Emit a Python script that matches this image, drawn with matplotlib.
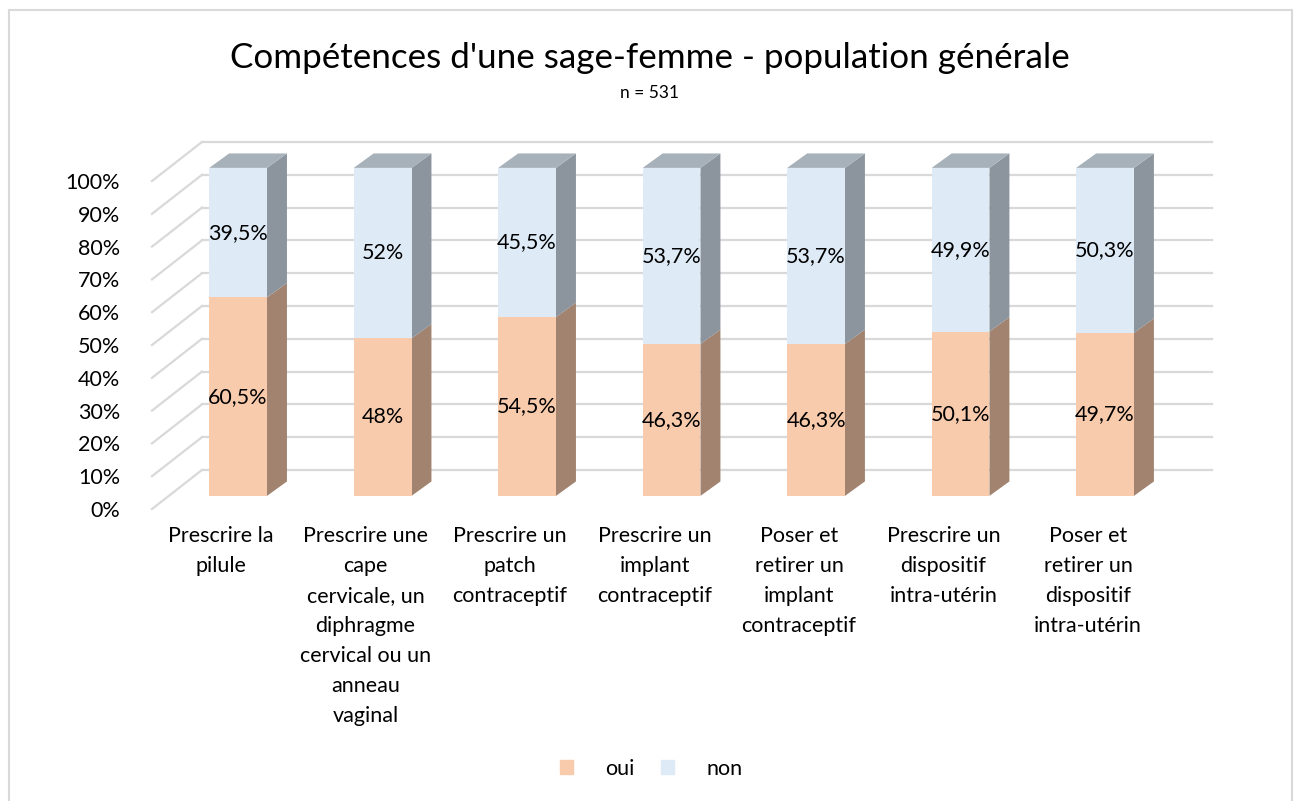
import matplotlib
matplotlib.use("Agg")
import matplotlib.pyplot as plt
from matplotlib.patches import Polygon, Patch, Rectangle

plt.rcParams['font.family'] = ['Lato', 'DejaVu Sans']

# data
categories = [
    "Prescrire la\npilule",
    "Prescrire une\ncape\ncervicale, un\ndiphragme\ncervical ou un\nanneau\nvaginal",
    "Prescrire un\npatch\ncontraceptif",
    "Prescrire un\nimplant\ncontraceptif",
    "Poser et\nretirer un\nimplant\ncontraceptif",
    "Prescrire un\ndispositif\nintra-utérin",
    "Poser et\nretirer un\ndispositif\nintra-utérin",
]
oui = [60.5, 48, 54.5, 46.3, 46.3, 50.1, 49.7]
non = [39.5, 52, 45.5, 53.7, 53.7, 49.9, 50.3]
series_names = ["oui", "non"]
yticks = [i / 10 for i in range(11)]

# colours (front, side, top)
c_oui = ("#F8CBAD", "#A1836F", "#C9A68F")
c_non = ("#DEEBF7", "#8C959E", "#A7B1BA")
grid_c = "#D9D9D9"

# fake 3d geometry, in data units
bar_w = 0.40
front_off = (0.118, 0.040)   # bar front face relative to floor front edge
depth = (0.138, 0.044)       # bar depth
wall = (0.346, 0.119)        # back wall relative to front plane
xlo, xhi = -0.478, 6.512

fig = plt.figure(figsize=(13.01, 8.01), dpi=100)
ax = fig.add_axes([152 / 1301, (801 - 509) / 801, (1162 - 152) / 1301, 328 / 801])
ax.set_xlim(xlo, xhi)
ax.set_ylim(0, 1)
for s in ax.spines.values():
    s.set_visible(False)

# back wall gridlines + left wall diagonals
for y in yticks:
    ax.plot([xlo + wall[0], xhi + wall[0]], [y + wall[1], y + wall[1]],
            color=grid_c, lw=1.6, clip_on=False, zorder=1)
    ax.plot([xlo, xlo + wall[0]], [y, y + wall[1]],
            color=grid_c, lw=1.6, clip_on=False, zorder=1)


def fmt(v):
    return f"{v:g}".replace(".", ",") + "%"


for i in range(len(categories)):
    xl = i + front_off[0] - bar_w / 2
    xr = xl + bar_w
    base = front_off[1]
    segs = [(0, oui[i] / 100, c_oui), (oui[i] / 100, 1.0, c_non)]
    for b, t, col in segs:
        side = Polygon([(xr, base + b), (xr + depth[0], base + b + depth[1]),
                        (xr + depth[0], base + t + depth[1]), (xr, base + t)],
                       closed=True, fc=col[1], ec='none', clip_on=False, zorder=3)
        ax.add_patch(side)
    top = Polygon([(xl, base + 1), (xr, base + 1), (xr + depth[0], base + 1 + depth[1]),
                   (xl + depth[0], base + 1 + depth[1])],
                  closed=True, fc=c_non[2], ec='none', clip_on=False, zorder=3)
    ax.add_patch(top)

xs = [i + front_off[0] for i in range(len(categories))]
b1 = ax.bar(xs, [v / 100 for v in oui], width=bar_w, bottom=front_off[1],
            color=c_oui[0], zorder=4, clip_on=False)
b2 = ax.bar(xs, [v / 100 for v in non], width=bar_w,
            bottom=[front_off[1] + v / 100 for v in oui],
            color=c_non[0], zorder=4, clip_on=False)

for i in range(len(categories)):
    ax.text(xs[i], front_off[1] + oui[i] / 200, fmt(oui[i]), ha='center', va='center',
            fontsize=15.5, zorder=5)
    ax.text(xs[i], front_off[1] + oui[i] / 100 + non[i] / 200, fmt(non[i]),
            ha='center', va='center', fontsize=15.5, zorder=5)

ax.set_yticks(yticks)
ax.set_yticklabels([f"{int(round(t * 100))}%" for t in yticks], fontsize=15.5)
ax.set_xticks(range(len(categories)))
ax.set_xticklabels(categories, fontsize=15.5, linespacing=1.63, va='top')
ax.tick_params(axis='y', length=0, pad=23)
ax.tick_params(axis='x', length=0, pad=12)

fig.text(650 / 1301, 1 - 58 / 801, "Compétences d'une sage-femme - population générale",
         ha='center', va='center', fontsize=25.2)
fig.text(650 / 1301, 1 - 93 / 801, "n = 531", ha='center', va='center', fontsize=12.5)

handles = [Patch(color=c_oui[0]), Patch(color=c_non[0])]
fig.legend(handles, series_names, loc='center', bbox_to_anchor=(651 / 1301, 1 - 769 / 801),
           ncol=2, frameon=False, fontsize=15.5, handlelength=0.62, handleheight=0.62,
           handletextpad=1.5, columnspacing=1.2)

fig.add_artist(Rectangle((8.5 / 1301, -0.05), (1292 - 8.5) / 1301, 1.05 - 10.5 / 801,
                         transform=fig.transFigure, fill=False, ec=grid_c, lw=1.5))

fig.savefig("out.png", dpi=100)
